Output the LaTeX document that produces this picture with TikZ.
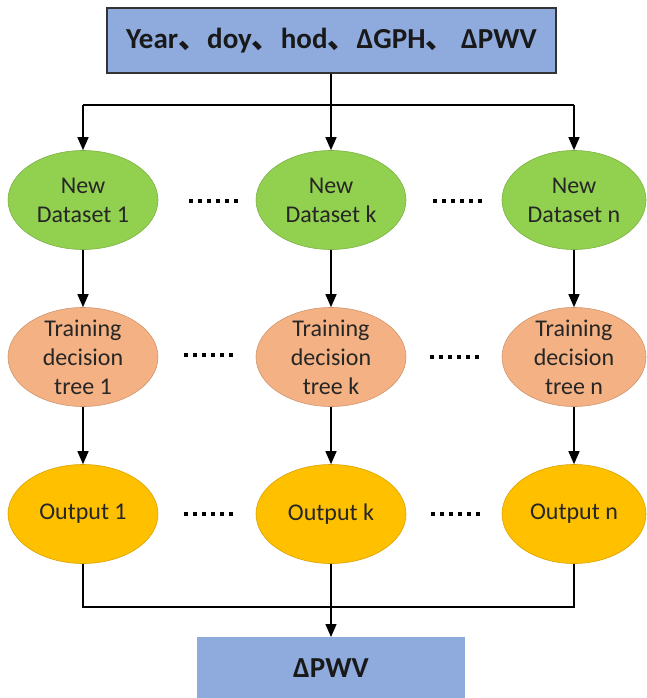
\documentclass[tikz,border=0pt]{standalone}
\usepackage{fontspec}
\setmainfont{Carlito}
\newfontfamily\cjk{Noto Sans CJK SC}
\usetikzlibrary{shapes.geometric,arrows.meta}
\definecolor{boxblue}{HTML}{8FAADC}
\definecolor{ellgreen}{HTML}{92D050}
\definecolor{ellorange}{HTML}{F4B183}
\definecolor{ellyellow}{HTML}{FFC000}
\definecolor{txtdark}{HTML}{262626}
\newcommand{\sixdots}{\rule{4pt}{4pt}\hspace{5pt}\rule{4pt}{4pt}\hspace{5pt}\rule{4pt}{4pt}\hspace{5pt}\rule{4pt}{4pt}\hspace{5pt}\rule{4pt}{4pt}\hspace{5pt}\rule{4pt}{4pt}}
\begin{document}
\begin{tikzpicture}[x=1pt,y=-1pt,
  ell/.style={ellipse, minimum width=150pt, minimum height=99pt, inner sep=0pt},
  ellg/.style={ell, fill=ellgreen, draw=ellgreen!85!black, line width=0.6pt},
  ello/.style={ell, fill=ellorange, draw=ellorange!85!black, line width=0.6pt},
  elly/.style={ell, fill=ellyellow, draw=ellyellow!85!black, line width=0.6pt},
  etxt/.style={align=center, text=txtdark, font=\fontsize{24}{29}\selectfont, inner sep=0pt},
  dotnode/.style={inner sep=0pt, text=black},
  conn/.style={line width=1.4pt, black},
  arr/.style={conn, -{Triangle[width=11pt,length=13pt]}}
]
\useasboundingbox (0,0) rectangle (646,698);
% top box
\node[draw=black!80, line width=1.2pt, fill=boxblue, minimum width=449pt, minimum height=65pt, inner sep=0pt,
      font=\fontsize{29}{34}\selectfont\bfseries, text=black!90] (top) at (331.5,40.5)
  {Year{\cjk 、}doy{\cjk 、}hod{\cjk 、}ΔGPH{\cjk 、} ΔPWV};
% row 1
\node[ellg] (d1) at (83,200) {};
\node[ellg] (dk) at (331,200) {};
\node[ellg, minimum width=144pt] (dn) at (574,200) {};
\node[etxt] at (d1) {New\\Dataset 1};
\node[etxt] at (dk) {New\\Dataset k};
\node[etxt] at (dn) {New\\Dataset n};
% row 2
\node[ello] (t1) at (83,357) {};
\node[ello] (tk) at (331,357) {};
\node[ello, minimum width=144pt] (tn) at (574,357) {};
\node[etxt] at (t1) {Training\\decision\\tree 1};
\node[etxt] at (tk) {Training\\decision\\tree k};
\node[etxt] at (tn) {Training\\decision\\tree n};
% row 3
\node[elly] (o1) at (83,514) {};
\node[elly] (ok) at (331,514) {};
\node[elly, minimum width=144pt] (on) at (574,514) {};
\node[etxt] at (o1) {Output 1};
\node[etxt] at (ok) {Output k};
\node[etxt] at (on) {Output n};
% dots
\node[dotnode] (p1) at (213,201) {\sixdots};
\node[dotnode] (p2) at (457,201) {\sixdots};
\node[dotnode] (p3) at (208,355) {\sixdots};
\node[dotnode] (p4) at (454,357) {\sixdots};
\node[dotnode] (p5) at (208,514) {\sixdots};
\node[dotnode] (p6) at (455,514) {\sixdots};
% bottom box
\node[fill=boxblue, minimum width=268pt, minimum height=61pt, inner sep=0pt, anchor=north,
      font=\fontsize{29}{34}\selectfont\bfseries, text=black!90] (res) at (331,637) {ΔPWV};
% connectors top
\coordinate (sp) at (331,105);
\coordinate (sl) at (83,105);
\coordinate (sr) at (574,105);
\draw[conn] (top.south -| sp) -- (sp);
\draw[conn] (sl) -- (sr);
\draw[arr] (sl) -- (d1.north);
\draw[arr] (sp) -- (dk.north);
\draw[arr] (sr) -- (dn.north);
% vertical
\draw[arr] (d1.south) -- (t1.north);
\draw[arr] (dk.south) -- (tk.north);
\draw[arr] (dn.south) -- (tn.north);
\draw[arr] (t1.south) -- (o1.north);
\draw[arr] (tk.south) -- (ok.north);
\draw[arr] (tn.south) -- (on.north);
% bottom
\coordinate (bl) at (83,607);
\coordinate (br) at (574,607);
\draw[conn] (o1.south) -- (bl) -- (br) -- (on.south);
\draw[arr] (ok.south) -- (res.north);
\end{tikzpicture}
\end{document}
